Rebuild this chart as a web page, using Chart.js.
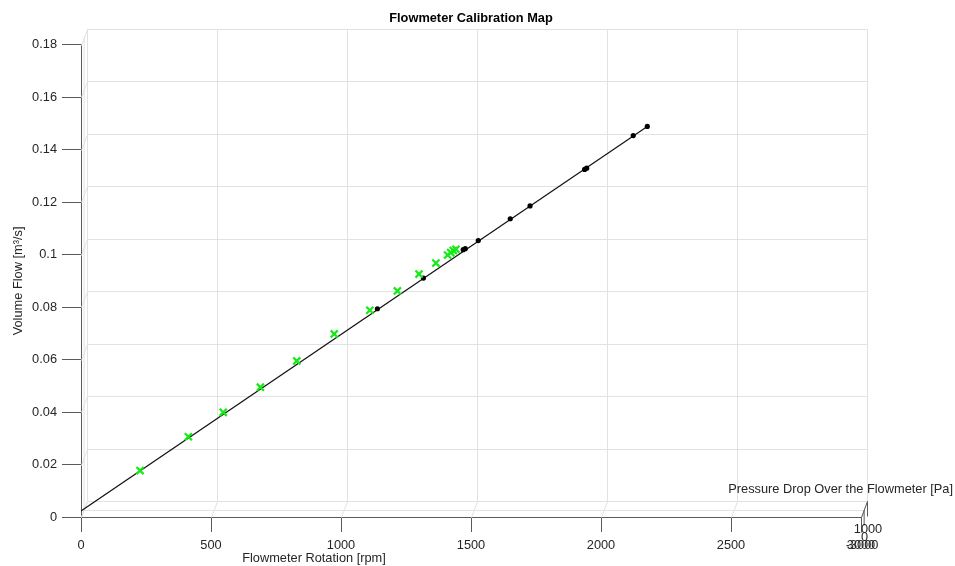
<!DOCTYPE html>
<html>
<head>
<meta charset="utf-8">
<title>Flowmeter Calibration Map</title>
<script src="https://cdn.jsdelivr.net/npm/chart.js@4.4.0/dist/chart.umd.min.js"></script>
<style>
  html, body { margin: 0; padding: 0; background: #fff; }
  #wrap { width: 955px; height: 566px; }
</style>
</head>
<body>
<div id="wrap"><canvas id="myChart" width="955" height="566"></canvas></div>
<script>
// calibration measurements (green crosses)
const measuredRpm  = [227, 413, 547, 690, 830, 974, 1111, 1217, 1300, 1365, 1410, 1422, 1432, 1442];
const measuredFlow = [0.0177, 0.0306, 0.0399, 0.0495, 0.0595, 0.0698, 0.0788, 0.0862, 0.0926, 0.0968, 0.0999, 0.1008, 0.1016, 0.1021];

// map points (black dots)
const mapRpm  = [1140, 1317, 1470, 1478, 1528, 1651, 1727, 1937, 1945, 2124, 2178];
const mapFlow = [0.0794, 0.0911, 0.1019, 0.1023, 0.1054, 0.1137, 0.1186, 0.1325, 0.1330, 0.1454, 0.1489];

// fitted calibration line
const fitRpm  = [0, 2178];
const fitFlow = [0.0023, 0.1489];

// axis ticks
const rpmTicks  = [0, 500, 1000, 1500, 2000, 2500, 3000];
const flowTicks = [0, 0.02, 0.04, 0.06, 0.08, 0.1, 0.12, 0.14, 0.16, 0.18];
const pressureTicks = ['-3000', '0', '1000'];

const FONT = "'Liberation Sans', Arial, Helvetica, sans-serif";
const TEXT = '#262626';
const AXIS = '#5a5a5a';
const GRID = '#e2e2e2';
// depth of the (almost edge-on) pressure axis, in pixels
const DX = 6, DY = -16;
const ZFRAC = [0, 0.44, 1];

function pts(xs, ys) {
    return xs.map(function (v, i) { return { x: v, y: ys[i] }; });
}

const box3d = {
    id: 'box3d',
    beforeDatasetsDraw: function (chart) {
        const ctx = chart.ctx, a = chart.chartArea;
        const x = chart.scales.x, y = chart.scales.y;
        const L = Math.round(a.left) + 0.5, R = Math.round(a.right) + 0.5;
        const T = Math.round(a.top) + 0.5, B = Math.round(a.bottom) + 0.5;
        const zx = DX * ZFRAC[1], zy = DY * ZFRAC[1];
        ctx.save();
        ctx.lineWidth = 1;
        ctx.strokeStyle = GRID;
        ctx.beginPath();
        rpmTicks.forEach(function (v) {
            const px = Math.round(x.getPixelForValue(v)) + 0.5;
            ctx.moveTo(px + DX, T + DY); ctx.lineTo(px + DX, B + DY);
            ctx.moveTo(px, B); ctx.lineTo(px + DX, B + DY);
        });
        flowTicks.forEach(function (v) {
            const py = Math.round(y.getPixelForValue(v)) + 0.5;
            ctx.moveTo(L + DX, py + DY); ctx.lineTo(R + DX, py + DY);
            ctx.moveTo(L, py); ctx.lineTo(L + DX, py + DY);
        });
        // pressure grid line on floor and left wall
        ctx.moveTo(L + zx, B + zy); ctx.lineTo(R + zx, B + zy);
        ctx.moveTo(L + zx, T + zy); ctx.lineTo(L + zx, B + zy);
        ctx.stroke();

        // pressure axis
        ctx.strokeStyle = AXIS;
        ctx.beginPath();
        ctx.moveTo(R, B); ctx.lineTo(R + DX, B + DY);
        ZFRAC.forEach(function (f) {
            ctx.moveTo(R + DX * f, B + DY * f); ctx.lineTo(R + DX * f, B + DY * f + 15);
        });
        ctx.stroke();
        ctx.restore();
    },
    afterDraw: function (chart) {
        const ctx = chart.ctx, a = chart.chartArea;
        ctx.save();
        ctx.fillStyle = TEXT;
        ctx.font = '12.8px ' + FONT;
        ctx.textBaseline = 'middle';
        ctx.textAlign = 'center';
        ctx.fillText('Flowmeter Rotation [rpm]', 314, 558);
        ZFRAC.forEach(function (f, i) {
            ctx.fillText(pressureTicks[i], a.right + DX * f + 1, a.bottom + DY * f + 28);
        });
        ctx.textAlign = 'right';
        ctx.fillText('Pressure Drop Over the Flowmeter [Pa]', 953, 489);
        ctx.restore();
    }
};

document.addEventListener("DOMContentLoaded", function () {
    const config = {
        type: 'scatter',
        data: {
            datasets: [{
                label: 'Measured',
                data: pts(measuredRpm, measuredFlow),
                pointStyle: 'crossRot',
                pointRadius: 5,
                borderWidth: 2.2,
                borderColor: 'rgb(20, 235, 20)',
                backgroundColor: 'rgb(20, 235, 20)',
                order: 0
            }, {
                label: 'Map',
                data: pts(mapRpm, mapFlow),
                pointStyle: 'circle',
                pointRadius: 2.6,
                borderWidth: 0,
                backgroundColor: '#000',
                borderColor: '#000',
                order: 1
            }, {
                type: 'line',
                label: 'Fit',
                data: pts(fitRpm, fitFlow),
                borderColor: '#111',
                borderWidth: 1.2,
                pointRadius: 0,
                fill: false,
                order: 2
            }]
        },
        options: {
            responsive: false,
            animation: false,
            layout: { padding: { left: 0, right: 94, top: 0, bottom: 0 } },
            plugins: {
                legend: { display: false },
                tooltip: { enabled: false },
                title: {
                    display: true,
                    fullSize: false,
                    text: 'Flowmeter Calibration Map',
                    color: '#000',
                    font: { family: FONT, size: 12.8, weight: 'bold' },
                    padding: { top: 11, bottom: 18.5 }
                }
            },
            scales: {
                x: {
                    type: 'linear',
                    min: 0,
                    max: 3000,
                    afterBuildTicks: function (s) { s.ticks = rpmTicks.map(function (v) { return { value: v }; }); },
                    afterFit: function (s) { s.height = 49; },
                    grid: { drawOnChartArea: false, drawTicks: true, tickLength: 15, color: AXIS },
                    border: { color: AXIS, width: 1 },
                    ticks: {
                        color: TEXT,
                        padding: 6,
                        maxRotation: 0,
                        font: { family: FONT, size: 12.8 },
                        callback: function (v) { return String(v); }
                    }
                },
                y: {
                    type: 'linear',
                    min: 0,
                    max: 0.18,
                    afterBuildTicks: function (s) { s.ticks = flowTicks.map(function (v) { return { value: v }; }); },
                    afterFit: function (s) { s.width = 81; },
                    grid: { drawOnChartArea: false, drawTicks: true, tickLength: 19, color: AXIS },
                    border: { color: AXIS, width: 1 },
                    title: {
                        display: true,
                        text: 'Volume Flow [m\u00b3/s]',
                        color: TEXT,
                        font: { family: FONT, size: 12.8 },
                        padding: { top: 10.3, bottom: 0 }
                    },
                    ticks: {
                        color: TEXT,
                        padding: 5,
                        font: { family: FONT, size: 12.8 },
                        callback: function (v) { return String(+v.toFixed(2)); }
                    }
                }
            }
        },
        plugins: [box3d]
    };

    var calibChart = new Chart(document.getElementById('myChart'), config);
});
</script>
</body>
</html>
